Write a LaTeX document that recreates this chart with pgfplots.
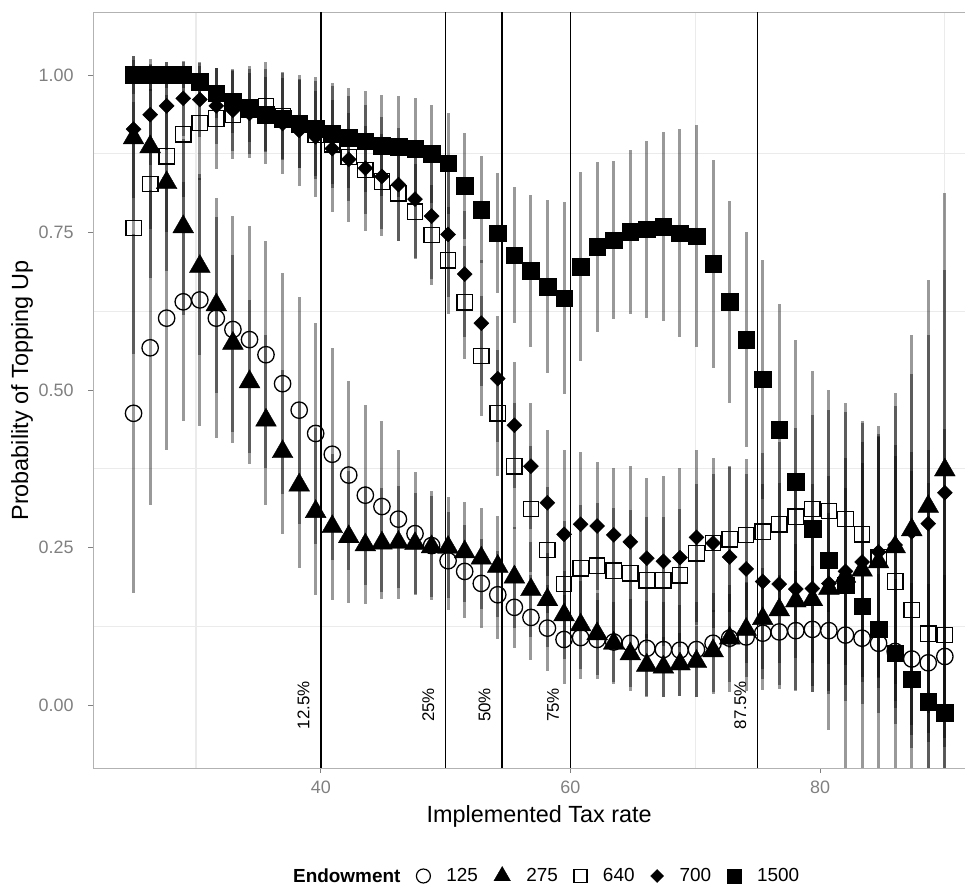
\documentclass[border=0pt]{standalone}
\usepackage{pgfplots}
\pgfplotsset{compat=1.18}
\usepackage{pgfplotstable}
\usepackage{fontspec}
\setmainfont{Liberation Sans}

\pgfplotstableread{
x c ce t te s se d de f fe
25.00 0.463 0.285 0.900 0.13 0.757 0.20 0.914 0.11 1.000 0.030
26.33 0.567 0.250 0.886 0.13 0.827 0.15 0.937 0.08 1.000 0.025
27.65 0.614 0.210 0.829 0.14 0.871 0.12 0.951 0.07 1.000 0.020
28.98 0.640 0.190 0.759 0.14 0.906 0.10 0.963 0.06 1.000 0.020
30.31 0.643 0.200 0.696 0.14 0.924 0.09 0.961 0.06 0.989 0.030
31.63 0.614 0.190 0.635 0.14 0.931 0.08 0.951 0.06 0.971 0.040
32.96 0.596 0.180 0.574 0.14 0.937 0.07 0.944 0.065 0.958 0.050
34.29 0.580 0.180 0.513 0.13 0.945 0.07 0.939 0.07 0.948 0.055
35.61 0.556 0.180 0.452 0.135 0.950 0.07 0.934 0.075 0.937 0.060
36.94 0.510 0.175 0.402 0.13 0.935 0.07 0.923 0.08 0.931 0.065
38.27 0.468 0.180 0.349 0.132 0.922 0.07 0.912 0.088 0.923 0.070
39.59 0.431 0.175 0.307 0.132 0.905 0.07 0.902 0.095 0.915 0.075
40.92 0.398 0.168 0.283 0.116 0.890 0.07 0.883 0.10 0.907 0.080
42.24 0.365 0.150 0.267 0.105 0.870 0.07 0.866 0.10 0.900 0.080
43.57 0.333 0.143 0.254 0.094 0.849 0.07 0.852 0.10 0.895 0.080
44.90 0.315 0.135 0.257 0.088 0.831 0.075 0.839 0.095 0.888 0.080
46.22 0.295 0.110 0.258 0.089 0.812 0.075 0.826 0.09 0.886 0.080
47.55 0.272 0.098 0.256 0.080 0.783 0.075 0.803 0.093 0.883 0.080
48.88 0.253 0.086 0.251 0.080 0.746 0.08 0.776 0.10 0.875 0.078
50.20 0.229 0.078 0.250 0.080 0.706 0.085 0.747 0.10 0.860 0.080
51.53 0.212 0.074 0.243 0.080 0.639 0.09 0.684 0.10 0.824 0.084
52.86 0.193 0.071 0.233 0.080 0.554 0.095 0.606 0.10 0.786 0.085
54.18 0.175 0.070 0.220 0.080 0.463 0.10 0.518 0.10 0.749 0.095
55.51 0.155 0.065 0.203 0.080 0.379 0.10 0.444 0.10 0.714 0.108
56.84 0.139 0.068 0.183 0.075 0.311 0.10 0.379 0.10 0.689 0.120
58.16 0.122 0.068 0.167 0.075 0.246 0.10 0.321 0.116 0.664 0.137
59.49 0.104 0.070 0.143 0.070 0.192 0.10 0.271 0.134 0.646 0.152
60.82 0.107 0.065 0.127 0.070 0.217 0.10 0.287 0.115 0.696 0.150
62.14 0.104 0.062 0.113 0.065 0.221 0.10 0.284 0.102 0.727 0.135
63.47 0.100 0.063 0.098 0.065 0.213 0.10 0.270 0.106 0.738 0.125
64.80 0.098 0.070 0.081 0.058 0.209 0.10 0.259 0.12 0.751 0.130
66.12 0.090 0.075 0.063 0.050 0.198 0.10 0.233 0.127 0.755 0.140
67.45 0.088 0.075 0.060 0.048 0.198 0.10 0.228 0.135 0.759 0.150
68.78 0.087 0.072 0.065 0.050 0.206 0.105 0.234 0.142 0.749 0.165
70.10 0.088 0.075 0.069 0.056 0.241 0.11 0.266 0.139 0.744 0.176
71.43 0.098 0.080 0.086 0.065 0.257 0.11 0.257 0.135 0.700 0.165
72.76 0.106 0.085 0.106 0.070 0.263 0.115 0.235 0.144 0.640 0.160
74.08 0.108 0.085 0.120 0.075 0.270 0.12 0.216 0.15 0.580 0.170
75.41 0.114 0.090 0.137 0.080 0.275 0.125 0.196 0.155 0.517 0.190
76.73 0.116 0.090 0.151 0.085 0.287 0.13 0.192 0.16 0.437 0.200
78.06 0.118 0.095 0.165 0.090 0.299 0.14 0.184 0.16 0.354 0.225
79.39 0.120 0.100 0.167 0.100 0.311 0.15 0.185 0.165 0.280 0.250
80.71 0.118 0.100 0.185 0.120 0.308 0.16 0.193 0.17 0.230 0.270
82.04 0.111 0.105 0.204 0.140 0.295 0.17 0.212 0.18 0.190 0.290
83.37 0.106 0.105 0.214 0.170 0.271 0.18 0.227 0.19 0.157 0.290
84.69 0.098 0.110 0.227 0.200 0.235 0.19 0.243 0.20 0.120 0.310
86.02 0.085 0.115 0.251 0.245 0.196 0.20 0.254 0.22 0.082 0.330
87.35 0.073 0.120 0.278 0.310 0.151 0.22 0.275 0.25 0.041 0.360
88.67 0.067 0.125 0.315 0.360 0.113 0.24 0.288 0.30 0.005 0.400
90.00 0.077 0.130 0.373 0.440 0.111 0.26 0.337 0.353 -0.012 0.450
}\data

\pgfplotsset{
  ebar/.style={draw=none, mark=none, forget plot,
    error bars/.cd, y dir=both, y explicit, error mark=none,
    error bar style={draw=black, draw opacity=0.4, line width=3bp}},
}

\begin{document}
\begin{tikzpicture}
\begin{axis}[
  name=ax,
  scale only axis,
  width=892.4bp, height=755.3bp,
  xmin=21.75, xmax=93.25, ymin=-0.1, ymax=1.0989,
  axis line style={draw=black!30, line width=0.8bp},
  xtick={40,60,80}, ytick={0,0.25,0.5,0.75,1},
  yticklabels={0.00,0.25,0.50,0.75,1.00},
  minor xtick={30,50,70,90}, minor ytick={0.125,0.375,0.625,0.875},
  xminorgrids, yminorgrids,
  minor grid style={draw=black!8, line width=1.2bp},
  minor tick length=0pt,
  tick align=outside, major tick length=5bp,
  major tick style={draw=black!50, line width=0.8bp},
  xtick pos=bottom, ytick pos=left,
  ticklabel style={font=\fontsize{18}{18}\selectfont, text=black!50},
  yticklabel style={xshift=-11bp},
  xticklabel style={yshift=-4bp},
  /pgf/number format/assume math mode=true,
  xlabel={Implemented Tax rate},
  ylabel={Probability of Topping Up},
  label style={font=\fontsize{23.5}{24}\selectfont},
  xlabel style={at={(axis description cs:0.5,0)}, anchor=center, yshift=-48bp},
  ylabel style={at={(axis description cs:-0.0796,0.5)}, anchor=center},
  legend columns=-1,
  legend cell align=left,
  legend image code/.code={\draw[mark repeat=2,mark phase=2,#1] plot coordinates {(0bp,0bp) (8bp,0bp) (16bp,0bp)};},
  legend style={draw=none, fill=none, at={(0.5,0)}, anchor=center, yshift=-108bp,
    font=\fontsize{19}{19}\selectfont,
    /tikz/every even column/.append style={column sep=14bp},
    /tikz/every odd column/.append style={column sep=14bp}},
]
% error bars (drawn below all points)
\addplot[ebar] table[x=x, y=c, y error=ce] {\data};
\addplot[ebar] table[x=x, y=t, y error=te] {\data};
\addplot[ebar] table[x=x, y=s, y error=se] {\data};
\addplot[ebar] table[x=x, y=d, y error=de] {\data};
\addplot[ebar] table[x=x, y=f, y error=fe] {\data};

% reference lines
\addplot[forget plot, black, line width=1.5bp] coordinates {(40,-0.2) (40,1.2)};
\addplot[forget plot, black, line width=1.5bp] coordinates {(50,-0.2) (50,1.2)};
\addplot[forget plot, black, line width=1.5bp] coordinates {(54.5,-0.2) (54.5,1.2)};
\addplot[forget plot, black, line width=1.5bp] coordinates {(60,-0.2) (60,1.2)};
\addplot[forget plot, black, line width=1.5bp] coordinates {(75,-0.2) (75,1.2)};

% points
\addplot[forget plot, only marks, mark=o, mark size=8.2bp, mark options={black, line width=1.3bp}] table[x=x, y=c] {\data};
\addplot[forget plot, only marks, mark=triangle*, mark size=12bp, mark options={black}] table[x=x, y=t] {\data};
\addplot[forget plot, only marks, mark=square, mark size=7.7bp, mark options={black, line width=1.3bp}] table[x=x, y=s] {\data};
\addplot[forget plot, only marks, mark=square*, mark size=5.3bp, mark options={black, rotate=45}] table[x=x, y=d] {\data};
\addplot[forget plot, only marks, mark=square*, mark size=8.3bp, mark options={black}] table[x=x, y=f] {\data};

% annotations
\node[rotate=90, anchor=base, font=\fontsize{17}{17}\selectfont] at ([xshift=-11.5bp]axis cs:40,0) {12.5\%};
\node[rotate=90, anchor=base, font=\fontsize{17}{17}\selectfont] at ([xshift=-11.5bp]axis cs:50,0) {25\%};
\node[rotate=90, anchor=base, font=\fontsize{17}{17}\selectfont] at ([xshift=-11.5bp]axis cs:54.5,0) {50\%};
\node[rotate=90, anchor=base, font=\fontsize{17}{17}\selectfont] at ([xshift=-11.5bp]axis cs:60,0) {75\%};
\node[rotate=90, anchor=base, font=\fontsize{17}{17}\selectfont] at ([xshift=-11.5bp]axis cs:75,0) {87.5\%};

% legend
\addlegendimage{empty legend}\addlegendentry{\textbf{Endowment}}
\addlegendimage{only marks, mark=o, mark size=7bp, mark options={black, line width=1.2bp}}\addlegendentry{125}
\addlegendimage{only marks, mark=triangle*, mark size=9.5bp, mark options={black}}\addlegendentry{275}
\addlegendimage{only marks, mark=square, mark size=6.5bp, mark options={black, line width=1.2bp}}\addlegendentry{640}
\addlegendimage{only marks, mark=square*, mark size=4.6bp, mark options={black, rotate=45}}\addlegendentry{700}
\addlegendimage{only marks, mark=square*, mark size=7bp, mark options={black}}\addlegendentry{1500}
\end{axis}
\pgfresetboundingbox
\path[use as bounding box] ([shift={(-93bp,-122bp)}]ax.south west) rectangle ([shift={(-20.4bp,12.7bp)}]ax.north east);
\end{tikzpicture}
\end{document}
